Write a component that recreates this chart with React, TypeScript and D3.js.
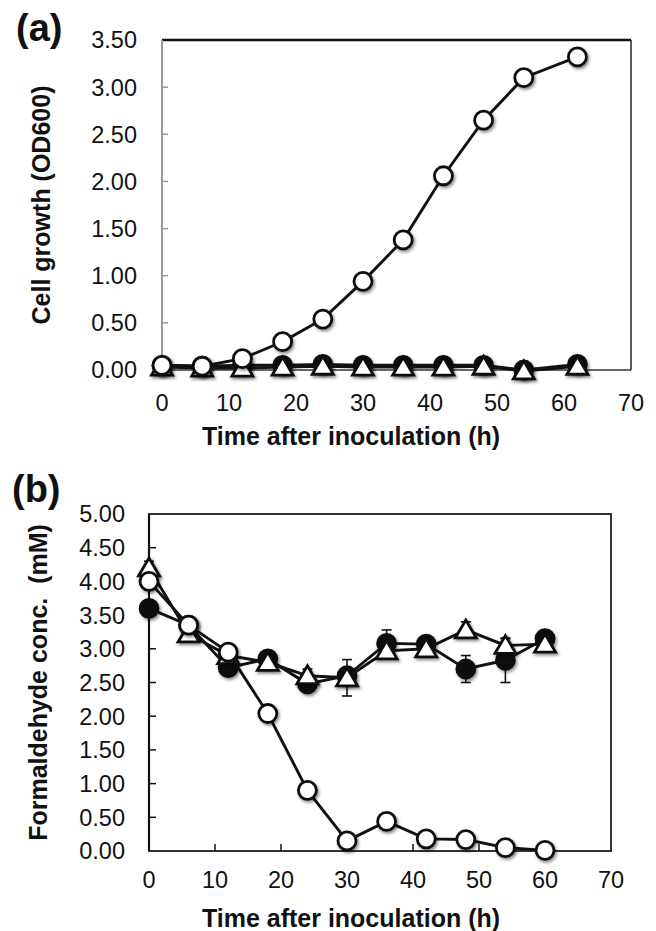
import * as d3 from "d3";
import React, { useEffect } from "react";

// (a) cell growth
const timeA = [0, 6, 12, 18, 24, 30, 36, 42, 48, 54, 62];
const growthOpen = [0.05, 0.04, 0.12, 0.3, 0.54, 0.94, 1.38, 2.06, 2.65, 3.1, 3.32];
const growthFilled = [0.05, 0.04, 0.05, 0.05, 0.06, 0.05, 0.05, 0.05, 0.05, 0.0, 0.06];
const growthTri = [0.03, 0.02, 0.02, 0.03, 0.04, 0.03, 0.03, 0.03, 0.04, -0.01, 0.04];
const yTicksA = [0, 0.5, 1, 1.5, 2, 2.5, 3, 3.5];

// (b) formaldehyde
const timeB = [0, 6, 12, 18, 24, 30, 36, 42, 48, 54, 60];
const formOpen = [4.0, 3.35, 2.95, 2.04, 0.9, 0.15, 0.44, 0.18, 0.17, 0.05, 0.01];
const formFilled = [3.6, 3.35, 2.72, 2.85, 2.48, 2.6, 3.08, 3.07, 2.7, 2.83, 3.15];
const formFilledErr = [0.05, 0.05, 0.1, 0.05, 0.08, 0.1, 0.2, 0.05, 0.2, 0.33, 0.12];
const formTri = [4.2, 3.22, 2.9, 2.8, 2.6, 2.57, 2.97, 3.0, 3.28, 3.05, 3.07];
const formTriErr = [0.1, 0.05, 0.05, 0.05, 0.1, 0.27, 0.1, 0.05, 0.12, 0.1, 0.05];
const yTicksB = [0, 0.5, 1, 1.5, 2, 2.5, 3, 3.5, 4, 4.5, 5];

const xTicks = [0, 10, 20, 30, 40, 50, 60, 70];

const FONT = "'Liberation Sans', Arial, sans-serif";
const R = 9;
const triPath = "M0,-10 L10.5,8 L-10.5,8 Z";

type Pt = { t: number; v: number };
const pts = (ts: number[], vs: number[]): Pt[] => ts.map((t, i) => ({ t, v: vs[i] }));

const Series = ({ data, x, y, kind, err }: any) => {
  const line = d3.line<Pt>().x(d => x(d.t)).y(d => y(d.v));
  return (
    <g>
      <path d={line(data) || ""} fill="none" stroke="#111" strokeWidth={2.9} />
      {err && data.map((d: Pt, i: number) => (
        <g key={"e" + i} stroke="#111" strokeWidth={1.6}>
          <line x1={x(d.t)} x2={x(d.t)} y1={y(d.v - err[i])} y2={y(d.v + err[i])} />
          <line x1={x(d.t) - 5} x2={x(d.t) + 5} y1={y(d.v + err[i])} y2={y(d.v + err[i])} />
          <line x1={x(d.t) - 5} x2={x(d.t) + 5} y1={y(d.v - err[i])} y2={y(d.v - err[i])} />
        </g>
      ))}
      <g filter="url(#shadow)">
        {data.map((d: Pt, i: number) =>
          kind === "tri" ? (
            <path key={i} d={triPath} transform={`translate(${x(d.t)},${y(d.v)})`}
              fill="#fff" stroke="#111" strokeWidth={2.8} strokeLinejoin="miter" />
          ) : (
            <circle key={i} cx={x(d.t)} cy={y(d.v)} r={R}
              fill={kind === "filled" ? "#111" : "#fff"} stroke="#111" strokeWidth={2.8} />
          )
        )}
      </g>
    </g>
  );
};

export default function App() {
  useEffect(() => {
    document.body.style.margin = "0";
  }, []);

  // panel (a) frame
  const xA = d3.scaleLinear().domain([0, 70]).range([162, 631]);
  const yA = d3.scaleLinear().domain([0, 3.5]).range([370, 40]);
  // panel (b) frame
  const xB = d3.scaleLinear().domain([0, 70]).range([149, 611]);
  const yB = d3.scaleLinear().domain([0, 5]).range([851, 514]);

  const tickText = { fontFamily: FONT, fontSize: 23.5, fill: "#111" };
  const titleText = { fontFamily: FONT, fontSize: 25, fontWeight: 700, fill: "#111" };

  return (
    <svg width={656} height={931} style={{ display: "block", background: "#fff" }}>
      <defs>
        <filter id="shadow" x="-50%" y="-50%" width="200%" height="200%">
          <feDropShadow dx={1.5} dy={2} stdDeviation={1.6} floodColor="#000" floodOpacity={0.45} />
        </filter>
      </defs>

      {/* ---------- (a) ---------- */}
      <text x={16} y={41} style={{ ...titleText, fontSize: 38 }}>(a)</text>
      <line x1={xA(0)} x2={xA(70)} y1={yA(3.5)} y2={yA(3.5)} stroke="#111" strokeWidth={2.5} />
      <line x1={xA(70)} x2={xA(70)} y1={yA(3.5)} y2={yA(0)} stroke="#333" strokeWidth={1.6} />
      <line x1={xA(0)} x2={xA(70)} y1={yA(0)} y2={yA(0)} stroke="#333" strokeWidth={1.6} />
      <line x1={xA(0)} x2={xA(0)} y1={yA(3.5)} y2={yA(0)} stroke="#999" strokeWidth={2} />
      {yTicksA.map(t => (
        <g key={t}>
          {t > 0 && t < 3.5 && (
            <line x1={xA(0)} x2={xA(0) + 6} y1={yA(t)} y2={yA(t)} stroke="#999" strokeWidth={1.5} />
          )}
          <text x={137} y={yA(t)} dy="0.36em" textAnchor="end" style={tickText}>{t.toFixed(2)}</text>
        </g>
      ))}
      {xTicks.map(t => (
        <text key={t} x={xA(t)} y={411} textAnchor="middle" style={tickText}>{t}</text>
      ))}
      <text x={351} y={445} textAnchor="middle" style={titleText}>Time after inoculation (h)</text>
      <text transform={`translate(50,${(yA(0) + yA(3.5)) / 2}) rotate(-90)`} textAnchor="middle"
        style={titleText}>Cell growth (OD600)</text>
      <Series data={pts(timeA, growthFilled)} x={xA} y={yA} kind="filled" />
      <Series data={pts(timeA, growthTri)} x={xA} y={yA} kind="tri" />
      <Series data={pts(timeA, growthOpen)} x={xA} y={yA} kind="open" />

      {/* ---------- (b) ---------- */}
      <text x={12} y={502} style={{ ...titleText, fontSize: 38 }}>(b)</text>
      <rect x={xB(0)} y={yB(5)} width={xB(70) - xB(0)} height={yB(0) - yB(5)}
        fill="none" stroke="#333" strokeWidth={2} />
      <line x1={xB(0)} x2={xB(0)} y1={yB(5)} y2={yB(0)} stroke="#111" strokeWidth={2.2} />
      {yTicksB.map(t => (
        <g key={t}>
          {t > 0 && t < 5 && (
            <line x1={xB(0)} x2={xB(0) + 7} y1={yB(t)} y2={yB(t)} stroke="#111" strokeWidth={1.5} />
          )}
          <text x={125} y={yB(t)} dy="0.36em" textAnchor="end" style={tickText}>{t.toFixed(2)}</text>
        </g>
      ))}
      {xTicks.map(t => (
        <g key={t}>
          {t > 0 && t < 70 && (
            <line x1={xB(t)} x2={xB(t)} y1={yB(0)} y2={yB(0) - 7} stroke="#111" strokeWidth={1.5} />
          )}
          <text x={xB(t)} y={888} textAnchor="middle" style={tickText}>{t}</text>
        </g>
      ))}
      <text x={351} y={927} textAnchor="middle" style={titleText}>Time after inoculation (h)</text>
      <text transform={`translate(47,${(yB(0) + yB(5)) / 2}) rotate(-90)`} textAnchor="middle"
        style={{ ...titleText, whiteSpace: "pre" }}>Formaldehyde conc.  (mM)</text>
      <Series data={pts(timeB, formFilled)} x={xB} y={yB} kind="filled" err={formFilledErr} />
      <Series data={pts(timeB, formTri)} x={xB} y={yB} kind="tri" err={formTriErr} />
      <Series data={pts(timeB, formOpen)} x={xB} y={yB} kind="open" />
    </svg>
  );
}
